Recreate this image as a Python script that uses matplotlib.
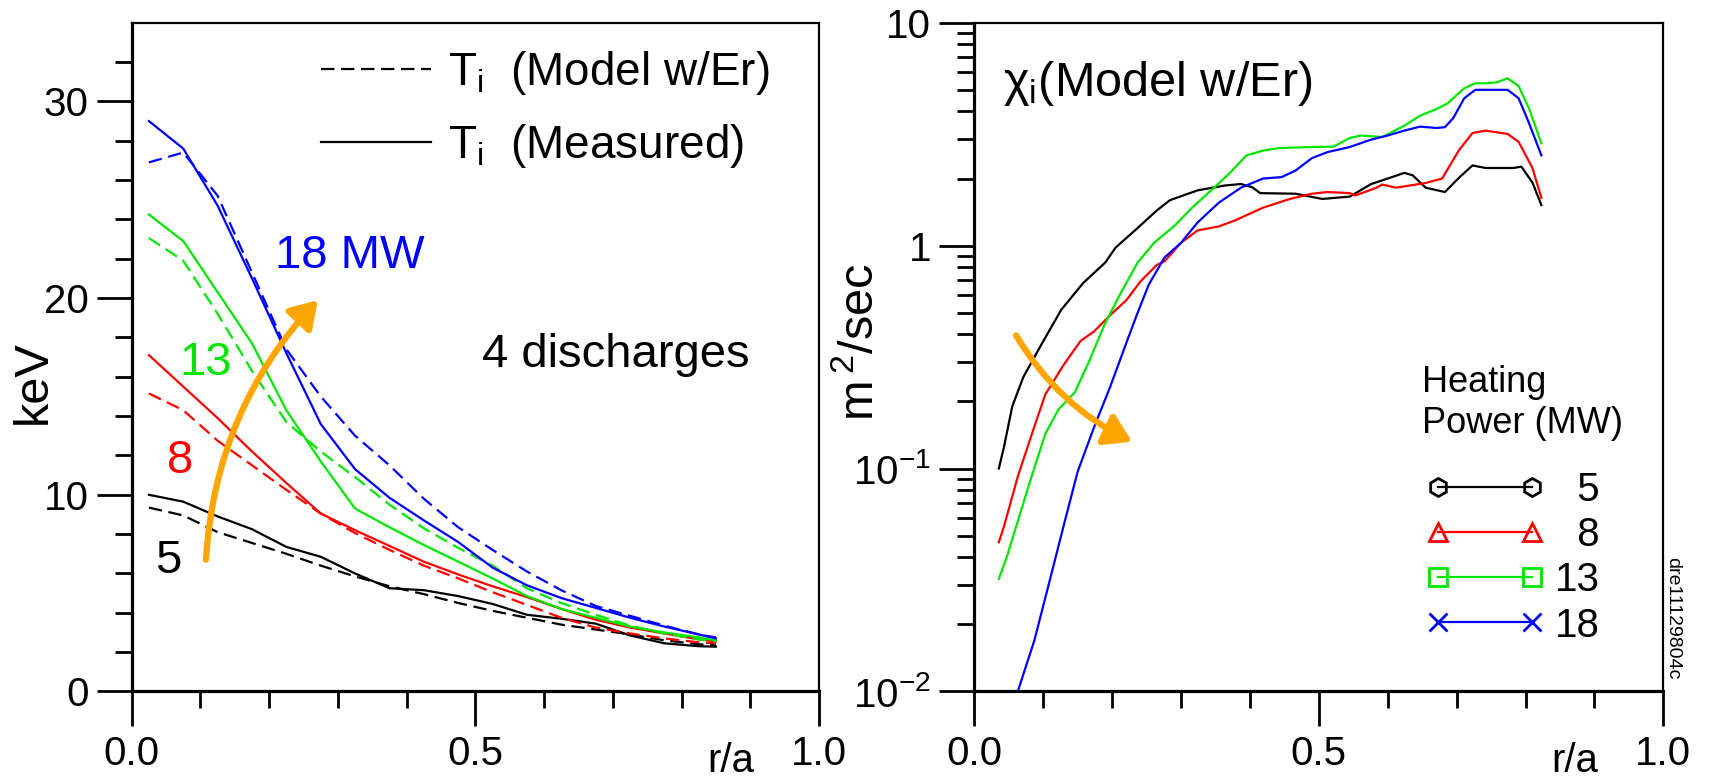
import numpy as np
import matplotlib.pyplot as plt
from matplotlib.lines import Line2D

plt.rcParams['font.family'] = ['Liberation Sans', 'DejaVu Sans']
plt.rcParams['mathtext.fontset'] = 'custom'
plt.rcParams['mathtext.rm'] = 'Liberation Sans'
plt.rcParams['mathtext.it'] = 'Liberation Sans'
plt.rcParams['mathtext.default'] = 'regular'

# ---- left panel: ion temperature profiles (keV) ----
r_ti = [0.025, 0.075, 0.125, 0.175, 0.225, 0.275, 0.325, 0.375, 0.425,
        0.475, 0.525, 0.575, 0.625, 0.675, 0.725, 0.775, 0.825, 0.85]

ti_meas_5 = [10.0, 9.65, 8.9, 8.25, 7.35, 6.85, 6.0, 5.25, 5.15, 4.85, 4.45, 3.9, 3.7, 3.45, 2.85, 2.45, 2.3, 2.28]
ti_model_5 = [9.35, 8.95, 8.1, 7.55, 7.0, 6.4, 5.85, 5.35, 4.95, 4.5, 4.1, 3.75, 3.4, 3.15, 2.9, 2.6, 2.4, 2.35]
ti_meas_8 = [17.1, 15.5, 13.9, 12.2, 10.6, 9.05, 8.2, 7.4, 6.6, 5.95, 5.35, 4.8, 4.2, 3.65, 3.25, 2.95, 2.65, 2.55]
ti_model_8 = [15.15, 14.3, 12.75, 11.5, 10.25, 9.05, 8.05, 7.2, 6.4, 5.75, 5.05, 4.4, 3.75, 3.25, 2.95, 2.7, 2.5, 2.45]
ti_meas_13 = [24.25, 22.9, 20.3, 17.7, 14.3, 11.7, 9.3, 8.35, 7.45, 6.6, 5.75, 4.85, 4.2, 3.75, 3.3, 3.0, 2.75, 2.6]
ti_model_13 = [23.05, 21.9, 19.2, 16.3, 13.7, 12.2, 10.9, 9.5, 8.3, 7.3, 6.4, 5.25, 4.5, 3.9, 3.35, 2.95, 2.65, 2.55]
ti_meas_18 = [29.0, 27.6, 24.7, 21.0, 17.2, 13.6, 11.3, 9.85, 8.7, 7.6, 6.3, 5.4, 4.75, 4.25, 3.75, 3.3, 2.9, 2.7]
ti_model_18 = [26.9, 27.4, 25.2, 21.3, 17.4, 15.0, 13.0, 11.5, 9.8, 8.35, 7.2, 6.1, 5.15, 4.35, 3.85, 3.35, 2.9, 2.75]

# ---- right panel: chi_i (m^2/sec) ----
r_chi_5 = [0.0355, 0.043, 0.055, 0.071, 0.095, 0.126, 0.158, 0.19, 0.205, 0.237, 0.265, 0.284, 0.324,
           0.363, 0.387, 0.403, 0.415, 0.466, 0.505, 0.545, 0.576, 0.60, 0.624, 0.636, 0.655, 0.683,
           0.703, 0.723, 0.742, 0.782, 0.794, 0.81, 0.823]
chi_5 = [0.1, 0.125, 0.19, 0.257, 0.35, 0.515, 0.68, 0.84, 0.98, 1.2, 1.44, 1.6, 1.77,
         1.86, 1.89, 1.83, 1.72, 1.71, 1.62, 1.66, 1.89, 2.0, 2.12, 2.07, 1.82, 1.74,
         2.01, 2.29, 2.23, 2.23, 2.26, 1.92, 1.52]
r_chi_8 = [0.0355, 0.043, 0.063, 0.087, 0.103, 0.13, 0.154, 0.174, 0.197, 0.221, 0.241, 0.265, 0.276,
           0.30, 0.324, 0.355, 0.379, 0.419, 0.458, 0.49, 0.513, 0.545, 0.553, 0.584, 0.592, 0.612,
           0.655, 0.679, 0.703, 0.723, 0.742, 0.774, 0.79, 0.81, 0.823]
chi_8 = [0.0467, 0.055, 0.092, 0.154, 0.215, 0.293, 0.373, 0.413, 0.487, 0.571, 0.69, 0.82, 0.85,
         1.03, 1.17, 1.22, 1.3, 1.48, 1.62, 1.71, 1.74, 1.72, 1.68, 1.82, 1.88, 1.82,
         1.91, 2.0, 2.67, 3.2, 3.28, 3.17, 2.92, 2.23, 1.64]
r_chi_13 = [0.0355, 0.047, 0.063, 0.083, 0.103, 0.122, 0.146, 0.166, 0.19, 0.213, 0.237, 0.261, 0.292,
            0.316, 0.348, 0.371, 0.395, 0.419, 0.442, 0.49, 0.521, 0.545, 0.561, 0.592, 0.624, 0.647,
            0.671, 0.687, 0.711, 0.727, 0.742, 0.758, 0.774, 0.79, 0.805, 0.823]
chi_13 = [0.032, 0.040, 0.058, 0.092, 0.143, 0.184, 0.22, 0.30, 0.45, 0.617, 0.84, 1.03, 1.24,
          1.48, 1.82, 2.12, 2.54, 2.67, 2.74, 2.77, 2.78, 3.04, 3.12, 3.07, 3.45, 3.83,
          4.1, 4.35, 5.08, 5.35, 5.35, 5.4, 5.63, 5.2, 4.13, 2.88]
r_chi_18 = [0.058, 0.063, 0.087, 0.11, 0.13, 0.15, 0.174, 0.197, 0.221, 0.237, 0.253, 0.276, 0.30,
            0.324, 0.355, 0.387, 0.419, 0.446, 0.466, 0.49, 0.513, 0.545, 0.576, 0.60, 0.624, 0.647,
            0.671, 0.683, 0.695, 0.711, 0.727, 0.774, 0.79, 0.805, 0.823]
chi_18 = [0.0085, 0.0100, 0.0169, 0.032, 0.056, 0.097, 0.154, 0.232, 0.369, 0.50, 0.667, 0.885, 1.03,
          1.27, 1.56, 1.82, 2.0, 2.03, 2.17, 2.47, 2.63, 2.77, 2.99, 3.12, 3.28, 3.42,
          3.37, 3.4, 3.73, 4.58, 5.0, 5.0, 4.58, 3.55, 2.54]

power_labels = ['5', '8', '13', '18']
colors = ['black', 'red', '#00e600', 'blue']
markers = ['h', '^', 's', 'x']

# annotation arrows (data coords)
arrow_left = ((0.108, 6.7), (0.271, 19.9))
arrow_right = ((0.0605, 0.396), (0.229, 0.132))

fig = plt.figure(figsize=(17.13, 7.78), dpi=100)
ax1 = fig.add_axes([0.0769, 0.1112, 0.4012, 0.8596])
ax2 = fig.add_axes([0.5688, 0.1112, 0.4022, 0.8596])


def style_axes(ax):
    for side in ['left', 'bottom']:
        ax.spines[side].set_linewidth(2.3)
    for side in ['top', 'right']:
        ax.spines[side].set_linewidth(1.6)
    ax.tick_params(which='both', direction='out', top=False, right=False, width=2,
                   labelsize=29, pad=6)
    ax.tick_params(which='major', length=25)
    ax.tick_params(which='minor', length=12)
    ax.set_xlim(0, 1.0)
    ax.set_xticks([0, 0.5, 1.0], ['0.0', '0.5', '1.0'])
    ax.set_xticks(np.arange(0.1, 1.0, 0.1), minor=True)
    ax.text(0.872, -0.121, 'r/a', transform=ax.transAxes, fontsize=29,
            ha='center', va='baseline', clip_on=False)


# left panel
meas = [ti_meas_5, ti_meas_8, ti_meas_13, ti_meas_18]
model = [ti_model_5, ti_model_8, ti_model_13, ti_model_18]
for m, mo, c in zip(meas, model, colors):
    ax1.plot(r_ti, m, color=c, lw=1.6)
    ax1.plot(r_ti, mo, color=c, lw=1.6, dashes=(6, 3))

style_axes(ax1)
ax1.set_ylim(0, 34)
ax1.set_yticks([0, 10, 20, 30])
ax1.set_yticks(np.arange(2, 34, 2), minor=True)
ax1.text(-0.143, 0.463, 'keV', transform=ax1.transAxes, fontsize=35,
         rotation=90, ha='center', va='center')

leg1 = ax1.legend([Line2D([], [], color='black', lw=1.6, dashes=(6, 3)),
                   Line2D([], [], color='black', lw=1.6)],
                  ['$T_{i}$  (Model w/Er)', '$T_{i}$  (Measured)'],
                  loc='upper left', bbox_to_anchor=(0.275, 0.96), frameon=False,
                  fontsize=33, handlelength=2.4, handletextpad=0.38,
                  labelspacing=0.54, borderpad=0, borderaxespad=0)

ax1.text(0.209, 0.633, '18 MW', transform=ax1.transAxes, fontsize=34, color='blue')
ax1.text(0.070, 0.473, '13', transform=ax1.transAxes, fontsize=34, color=colors[2])
ax1.text(0.051, 0.327, '8', transform=ax1.transAxes, fontsize=34, color='red')
ax1.text(0.034, 0.177, '5', transform=ax1.transAxes, fontsize=34, color='black')
ax1.text(0.51, 0.485, '4 discharges', transform=ax1.transAxes, fontsize=34)

ax1.annotate('', xy=arrow_left[1], xytext=arrow_left[0],
             arrowprops=dict(arrowstyle='-|>,head_length=0.4,head_width=0.25',
                             color='orange', lw=4.5, mutation_scale=40,
                             shrinkA=0, shrinkB=0,
                             connectionstyle='arc3,rad=-0.18'))

# right panel
r_chi = [r_chi_5, r_chi_8, r_chi_13, r_chi_18]
chis = [chi_5, chi_8, chi_13, chi_18]
for r, ch, c in zip(r_chi, chis, colors):
    ax2.plot(r, ch, color=c, lw=1.6)

ax2.set_yscale('log')
style_axes(ax2)
ax2.set_ylim(0.01, 10)
ax2.set_yticks([0.01, 0.1, 1, 10], ['$10^{-2}$', '$10^{-1}$', '1', '10'])
minor_ticks = [k * 10.0 ** e for e in (-2, -1, 0) for k in range(2, 10)]
ax2.set_yticks(minor_ticks, minor=True)
ax2.set_yticklabels([], minor=True)
ax2.text(-0.166, 0.522, r'm$\,^{2}$/sec', transform=ax2.transAxes, fontsize=35,
         rotation=90, ha='center', va='center')
ax2.text(0.042, 0.89, '$χ_{i}$(Model w/Er)', transform=ax2.transAxes, fontsize=35,
         va='baseline')

ax2.text(0.65, 0.4876, 'Heating\nPower (MW)', transform=ax2.transAxes, fontsize=26,
         ha='left', va='top', linespacing=1.2)
handles = [Line2D([], [], color=c, marker=mk, markersize=13, mfc='none', mew=2, lw=1.6)
           for c, mk in zip(colors, markers)]
labels = [lab.rjust(2).replace(' ', '  ') for lab in power_labels]
leg2 = ax2.legend(handles, labels, loc='upper left', bbox_to_anchor=(0.655, 0.33),
                  frameon=False, fontsize=29, numpoints=2, handlelength=2.95,
                  handletextpad=0.27, labelspacing=0.18, borderpad=0, borderaxespad=0)

ax2.annotate('', xy=arrow_right[1], xytext=arrow_right[0],
             arrowprops=dict(arrowstyle='-|>,head_length=0.4,head_width=0.25',
                             color='orange', lw=4.5, mutation_scale=40,
                             shrinkA=0, shrinkB=0,
                             connectionstyle='arc3,rad=0.15'))

fig.text(0.9767, 0.284, 'dre11129804c', fontsize=14, rotation=270,
         ha='center', va='top')

fig.savefig('out.png', dpi=100)
